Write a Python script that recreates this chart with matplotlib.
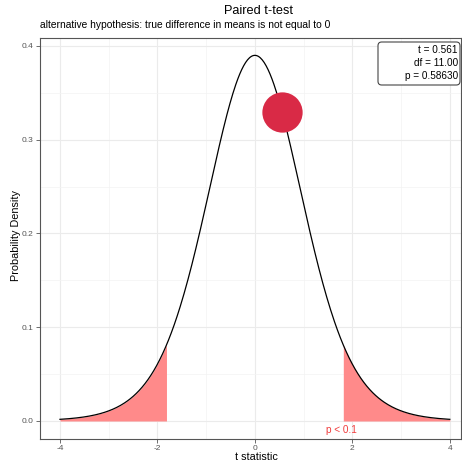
import math
import numpy as np
import matplotlib
matplotlib.use("Agg")
import matplotlib.pyplot as plt
from matplotlib.patches import FancyBboxPatch

# values
df_t = 11
t_stat = 0.561
p_value = 0.58630
t_crit = 1.796          # two-sided, alpha = 0.1
x_range = [-4, 4]
x_ticks = [-4, -2, 0, 2, 4]
y_ticks = [0.0, 0.1, 0.2, 0.3, 0.4]


def t_pdf(x, nu):
    c = math.gamma((nu + 1) / 2) / (math.sqrt(nu * math.pi) * math.gamma(nu / 2))
    return c * (1 + x ** 2 / nu) ** (-(nu + 1) / 2)


xs = np.linspace(x_range[0], x_range[1], 400)
ys = t_pdf(xs, df_t)

plt.rcParams['font.family'] = ['Liberation Sans', 'DejaVu Sans']

W, H = 462, 465
fig = plt.figure(figsize=(W / 100, H / 100), dpi=100)
ax = fig.add_axes([40 / W, 1 - 439 / H, 421 / W, 401 / H])

# tails
left = xs <= -t_crit
right = xs >= t_crit
ax.fill_between(xs[left], 0, ys[left], color='#ff8a8a', lw=0, zorder=2)
ax.fill_between(xs[right], 0, ys[right], color='#ff8a8a', lw=0, zorder=2)
ax.plot(xs, ys, color='black', lw=0.9, zorder=3)

# observed statistic
ax.plot([t_stat], [t_pdf(t_stat, df_t)], 'o', ms=29, color='#d92a46',
        mec='none', zorder=4)

ax.text(t_crit - 0.02, -0.0095, 'p < 0.1', color='#f03c3c', fontsize=7.2,
        ha='center', va='center', zorder=5)

# stats box
box = FancyBboxPatch((378 / W, 1 - 85 / H), 82 / W, 43 / H,
                     boxstyle='round,pad=0,rounding_size=0.008',
                     transform=fig.transFigure, fc='white', ec='#444444',
                     lw=0.8, zorder=6)
fig.patches.append(box)
stat_lines = ['t = %.3f' % t_stat, 'df = %.2f' % df_t, 'p = %.5f' % p_value]
for i, s in enumerate(stat_lines):
    fig.text(458 / W, 1 - (50 + 13 * i) / H, s, ha='right', va='center',
             fontsize=7.2, zorder=7)

ax.set_xlim(-4.41, 4.23)
ax.set_ylim(-0.0192, 0.4085)
ax.set_xticks(x_ticks)
ax.set_yticks(y_ticks)
ax.set_xticks([-3, -1, 1, 3], minor=True)
ax.set_yticks([0.05, 0.15, 0.25, 0.35], minor=True)
ax.set_xticklabels([str(v) for v in x_ticks])
ax.set_yticklabels(['%.1f' % v for v in y_ticks])
ax.grid(which='major', color='#ebebeb', lw=0.8, zorder=0)
ax.grid(which='minor', color='#f3f3f3', lw=0.5, zorder=0)
ax.set_axisbelow(True)
ax.tick_params(which='major', length=3, width=0.6, color='#555555',
               labelsize=6, labelcolor='#555555', pad=1.5)
ax.tick_params(which='minor', length=0)
for s in ax.spines.values():
    s.set_color('#555555')
    s.set_linewidth(0.8)

ax.set_xlabel('t statistic', fontsize=7.8, va='center')
ax.xaxis.set_label_coords((256 - 40) / 421, -(457 - 439) / 401)
ax.set_ylabel('Probability Density', fontsize=7.8, va='center')
ax.yaxis.set_label_coords(-(40 - 16) / 421, (439 - 235) / 401)

fig.text(259 / W, 1 - 11 / H, 'Paired t-test', ha='center', va='center', fontsize=9.2)
fig.text(40 / W, 1 - 25 / H,
         'alternative hypothesis: true difference in means is not equal to 0',
         ha='left', va='center', fontsize=7.4)

fig.savefig('out.png', dpi=100)
